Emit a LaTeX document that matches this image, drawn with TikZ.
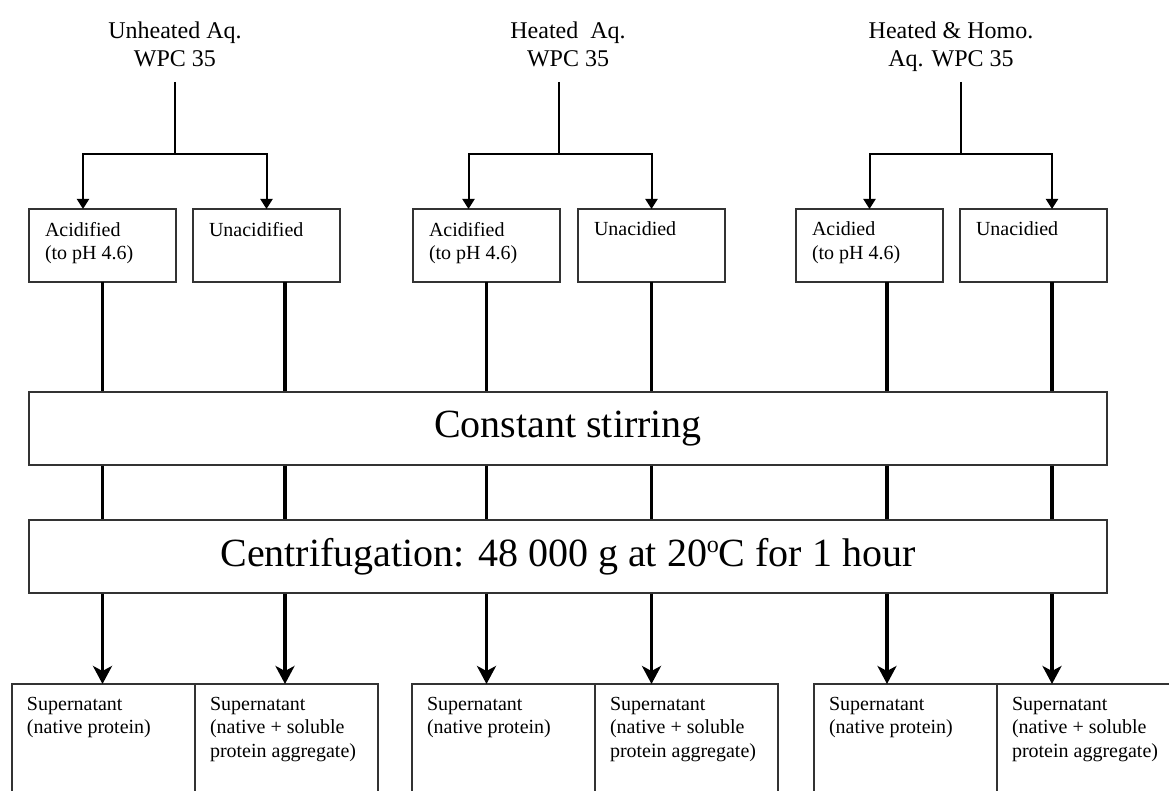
\documentclass[tikz,border=0pt]{standalone}
\usepackage{fontspec}
\setmainfont{Liberation Serif}
\usetikzlibrary{arrows.meta,positioning}

\begin{document}
\begin{tikzpicture}[x=1pt, y=-1pt,
  source/.style={align=center, inner sep=0pt, anchor=north, font=\fontsize{24}{28}\selectfont},
  topbox/.style={draw=black!80, line width=1.3pt, outer sep=0pt, anchor=north west, inner xsep=16pt, inner ysep=13pt,
    font=\fontsize{20}{23.5}\selectfont,
    execute at begin node={\begin{minipage}[t][47pt][t]{115pt}\raggedright},
    execute at end node={\end{minipage}}},
  subbox/.style={draw=black!80, line width=1.3pt, outer sep=0pt, anchor=north west, inner xsep=15pt, inner ysep=13pt,
    font=\fontsize{20}{23.5}\selectfont,
    execute at begin node={\begin{minipage}[t][120pt][t]{153pt}\raggedright},
    execute at end node={\end{minipage}}},
  stage/.style={draw=black!80, line width=1.3pt, minimum width=1078pt, minimum height=73pt, inner sep=0pt,
    font=\fontsize{40}{48}\selectfont},
  stemline/.style={line width=1.5pt},
  forkline/.style={line width=2pt, {Triangle[width=12pt,length=10pt]}-{Triangle[width=12pt,length=10pt]}},
  heavyline/.style={line width=3.3pt},
  droparrow/.style={line width=3.3pt, -{Stealth[width=19pt,length=18pt,inset=5pt]}}]
\useasboundingbox (0,0) rectangle (1169,791);
\clip (0,0) rectangle (1169,791);

% samples
\node[source] (unheated) at (175,21.5) {Unheated Aq.\\WPC 35};
\node[source] (heated) at (568,21.5) {Heated~ Aq.\\WPC 35};
\node[source] (homo) at (951,21.5) {Heated \& Homo.\\Aq. WPC 35};
\coordinate (top1) at (175,82);
\coordinate (fork1) at (175,154);
\coordinate (top2) at (559,82);
\coordinate (fork2) at (559,154);
\coordinate (top3) at (961,82);
\coordinate (fork3) at (961,154);

% acidified / unacidified
\node[topbox] (acid1) at (29,209) {Acidified\\(to pH 4.6)};
\node[topbox, right=17pt of acid1] (unacid1) {Unacidified};
\node[topbox] (acid2) at (413,209) {Acidified\\(to pH 4.6)};
\node[topbox, right=18pt of acid2] (unacid2) {Unacidied};
\node[topbox] (acid3) at (796,209) {Acidied\\(to pH 4.6)};
\node[topbox, right=17pt of acid3] (unacid3) {Unacidied};

% treatments
\node[stage] (stirring) at (568,428.5) {Constant stirring};
\node[stage] (centrifuge) at (568,556.5) {Centrifugation: 48 000 g at 20\raisebox{14pt}{\fontsize{24}{24}\selectfont o}C for 1 hour};

% supernatants
\node[subbox] (native1) at (12,684) {Supernatant\\(native protein)};
\node[subbox] (aggr1) at (native1.north east) {Supernatant\\(native + soluble\\protein aggregate)};
\node[subbox] (native2) at (412,684) {Supernatant\\(native protein)};
\node[subbox] (aggr2) at (native2.north east) {Supernatant\\(native + soluble\\protein aggregate)};
\node[subbox] (native3) at (814,684) {Supernatant\\(native protein)};
\node[subbox] (aggr3) at (native3.north east) {Supernatant\\(native + soluble\\protein aggregate)};

\draw[stemline] (top1) -- (fork1);
\draw[stemline] (top2) -- (fork2);
\draw[stemline] (top3) -- (fork3);
\draw[forkline] ([xshift=-19.5pt]acid1.north) |- (fork1) -| (unacid1.north);
\draw[forkline] ([xshift=-18pt]acid2.north) |- (fork2) -| (unacid2.north);
\draw[forkline] (acid3.north) |- (fork3) -| ([xshift=18.5pt]unacid3.north);

\coordinate (col1) at (acid1.south);
\coordinate (col2) at ([xshift=18.5pt]unacid1.south);
\coordinate (col3) at (acid2.south);
\coordinate (col4) at (unacid2.south);
\coordinate (col5) at ([xshift=17.5pt]acid3.south);
\coordinate (col6) at ([xshift=18.5pt]unacid3.south);

\draw[heavyline] (col1) -- (col1 |- stirring.north);
\draw[heavyline] (col2) -- (col2 |- stirring.north);
\draw[heavyline] (col3) -- (col3 |- stirring.north);
\draw[heavyline] (col4) -- (col4 |- stirring.north);
\draw[heavyline] (col5) -- (col5 |- stirring.north);
\draw[heavyline] (col6) -- (col6 |- stirring.north);

\draw[heavyline] (col1 |- stirring.south) -- (col1 |- centrifuge.north);
\draw[heavyline] (col2 |- stirring.south) -- (col2 |- centrifuge.north);
\draw[heavyline] (col3 |- stirring.south) -- (col3 |- centrifuge.north);
\draw[heavyline] (col4 |- stirring.south) -- (col4 |- centrifuge.north);
\draw[heavyline] (col5 |- stirring.south) -- (col5 |- centrifuge.north);
\draw[heavyline] (col6 |- stirring.south) -- (col6 |- centrifuge.north);

\draw[droparrow] (col1 |- centrifuge.south) -- (col1 |- native1.north);
\draw[droparrow] (col2 |- centrifuge.south) -- (col2 |- aggr1.north);
\draw[droparrow] (col3 |- centrifuge.south) -- (col3 |- native2.north);
\draw[droparrow] (col4 |- centrifuge.south) -- (col4 |- aggr2.north);
\draw[droparrow] (col5 |- centrifuge.south) -- (col5 |- native3.north);
\draw[droparrow] (col6 |- centrifuge.south) -- (col6 |- aggr3.north);
\end{tikzpicture}
\end{document}
